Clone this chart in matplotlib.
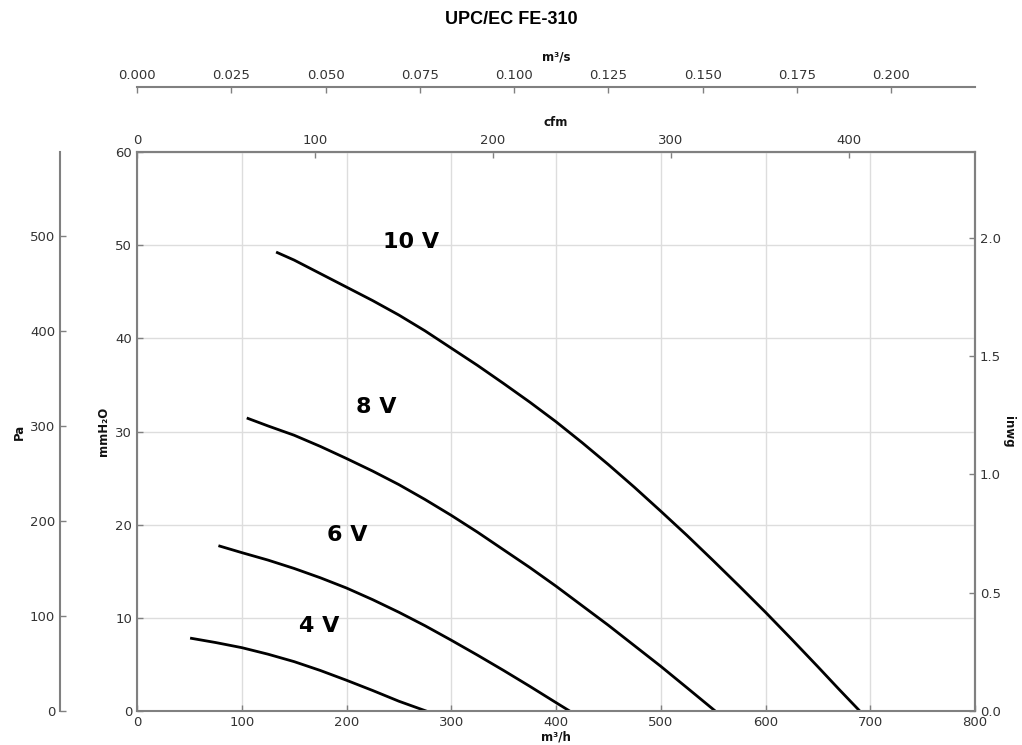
import matplotlib
matplotlib.use("Agg")
import matplotlib.pyplot as plt

# fan curves: flow in m3/h, pressure in mmH2O
flow_10v = [134, 150, 175, 200, 225, 250, 275, 300, 325, 350, 375, 400, 425,
            450, 475, 500, 525, 550, 575, 600, 625, 650, 670, 690]
pres_10v = [49.2, 48.4, 46.95, 45.5, 44.05, 42.5, 40.8, 38.95, 37.1, 35.15, 33.15, 31.05, 28.8,
            26.45, 24.0, 21.45, 18.85, 16.15, 13.4, 10.6, 7.7, 4.75, 2.35, 0.0]

flow_8v = [106, 125, 150, 175, 200, 225, 250, 275, 300, 325, 350, 375, 400,
           425, 450, 475, 500, 525, 552]
pres_8v = [31.4, 30.6, 29.6, 28.4, 27.1, 25.75, 24.3, 22.7, 21.0, 19.2, 17.3, 15.4, 13.4,
           11.3, 9.2, 7.0, 4.8, 2.5, 0.0]

flow_6v = [79, 100, 125, 150, 175, 200, 225, 250, 275, 300, 325, 350, 375, 400, 413]
pres_6v = [17.7, 17.0, 16.2, 15.3, 14.3, 13.2, 11.95, 10.6, 9.15, 7.6, 6.0, 4.35, 2.65, 0.9, 0.0]

flow_4v = [52, 75, 100, 125, 150, 175, 200, 225, 250, 276]
pres_4v = [7.8, 7.35, 6.8, 6.1, 5.3, 4.35, 3.3, 2.2, 1.05, 0.0]

curve_names = ["10 V", "8 V", "6 V", "4 V"]
label_pos = [(262, 50.3), (228, 32.6), (201, 18.9), (174, 9.1)]

m3h_ticks = [0, 100, 200, 300, 400, 500, 600, 700, 800]
mmh2o_ticks = [0, 10, 20, 30, 40, 50, 60]
cfm_ticks = [0, 100, 200, 300, 400]
m3s_ticks = [0.0, 0.025, 0.05, 0.075, 0.1, 0.125, 0.15, 0.175, 0.2]
pa_ticks = [0, 100, 200, 300, 400, 500]
inwg_ticks = [0.0, 0.5, 1.0, 1.5, 2.0]

spine_col = "#808080"
text_col = "#333333"
lab_font = dict(fontsize=8.5, fontweight="bold", color="#111111")

fig = plt.figure(figsize=(10.22, 7.45), dpi=100)
ax = fig.add_axes([137 / 1022, 1 - 711 / 745, 838 / 1022, 559 / 745])

ax.plot(flow_10v, pres_10v, color="black", lw=2)
ax.plot(flow_8v, pres_8v, color="black", lw=2)
ax.plot(flow_6v, pres_6v, color="black", lw=2)
ax.plot(flow_4v, pres_4v, color="black", lw=2)
for name, (xp, yp) in zip(curve_names, label_pos):
    ax.text(xp, yp, name, fontsize=16, fontweight="bold", ha="center", va="center")

ax.set_xlim(0, 800)
ax.set_ylim(0, 60)
ax.set_xticks(m3h_ticks)
ax.set_yticks(mmh2o_ticks)
ax.grid(True, color="#dddddd", lw=1)
ax.tick_params(direction="in", length=4, width=1, colors=spine_col,
               labelcolor=text_col, labelsize=9.5, top=False, right=False)
for s in ax.spines.values():
    s.set_color(spine_col)
    s.set_linewidth(1.5)
ax.set_xlabel("m³/h", labelpad=1, **lab_font)
ax.set_ylabel("mmH₂O", labelpad=4, **lab_font)


def style_sec(sa):
    sa.tick_params(direction="in", length=4, width=1, colors=spine_col,
                   labelcolor=text_col, labelsize=9.5)
    for s in sa.spines.values():
        s.set_color(spine_col)
        s.set_linewidth(1.5)


# cfm on top
cfm = ax.secondary_xaxis("top", functions=(lambda q: q / 1.699, lambda q: q * 1.699))
cfm.set_xticks(cfm_ticks)
cfm.set_xlabel("cfm", labelpad=6, **lab_font)
style_sec(cfm)

# m3/s further up
m3s = ax.secondary_xaxis(1 + 65 / 559, functions=(lambda q: q / 3600, lambda q: q * 3600))
m3s.set_xticks(m3s_ticks)
m3s.set_xticklabels(["%.3f" % t for t in m3s_ticks])
m3s.set_xlabel("m³/s", labelpad=6, **lab_font)
style_sec(m3s)

# Pa on the far left
pa = ax.secondary_yaxis(-77 / 838, functions=(lambda q: q * 9.80665, lambda q: q / 9.80665))
pa.set_yticks(pa_ticks)
pa.set_ylabel("Pa", labelpad=3, **lab_font)
style_sec(pa)

# inwg on the right
inwg = ax.secondary_yaxis("right", functions=(lambda q: q / 25.4, lambda q: q * 25.4))
inwg.set_yticks(inwg_ticks)
inwg.set_ylabel("inwg", rotation=270, labelpad=10, **lab_font)
style_sec(inwg)

fig.text(0.5, 1 - 20 / 745, "UPC/EC FE-310", ha="center", va="center",
         fontsize=13, fontweight="bold", family="Liberation Sans")

fig.savefig("out.png", dpi=100)
